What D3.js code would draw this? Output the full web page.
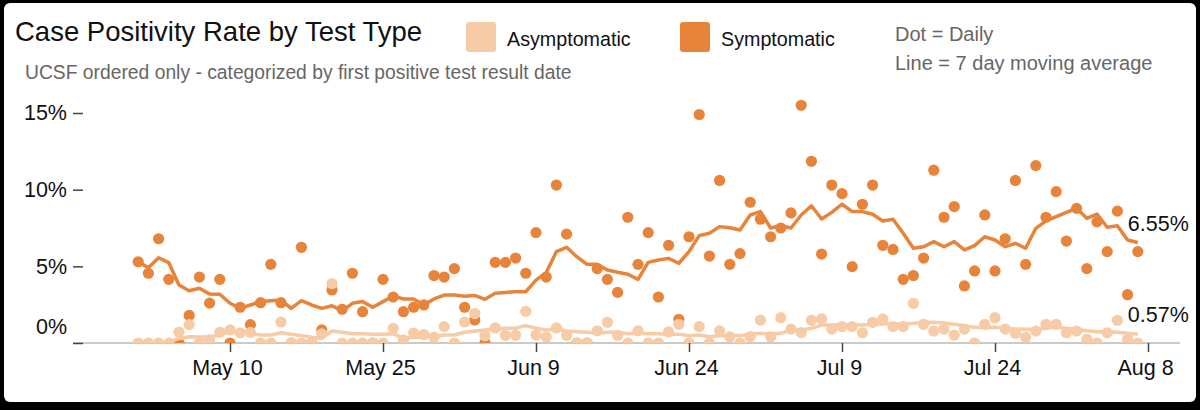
<!DOCTYPE html>
<html>
<head>
<meta charset="utf-8">
<script src="https://cdn.jsdelivr.net/npm/d3@7"></script>
<style>
  body { margin: 0; background: #000; }
  text { font-family: "Liberation Sans", Arial, Helvetica, sans-serif; }
</style>
</head>
<body>
<div class="chart"></div>
<script>
// daily values from May 1 to Aug 7 (one per day)
var startDate = "2020-05-01";

var symptomaticDaily = [
  5.3, 4.55, 6.8, 4.15, 0, 1.8, 4.3, 2.6, 4.15, 0,
  2.33, 1.2, 2.63, 5.13, 2.63, 0, 6.24, 0, 0.85, 3.46,
  2.2, 4.55, 2.04, 0, 4.15, 3.0, 2.04, 2.33, 2.48, 4.4,
  4.3, 4.85, 2.33, 1.5, 0, 5.26, 5.26, 5.54, 4.55, 7.2,
  4.3, 10.3, 7.1, 0, 0, 4.85, 4.15, 3.3, 8.2, 5.13,
  7.2, 3.0, 6.37, 1.55, 6.93, 14.9, 5.67, 10.6, 5.13, 5.83,
  9.18, 8.07, 6.93, 7.5, 8.48, 15.5, 11.85, 5.8, 10.3, 9.74,
  4.98, 9.05, 10.3, 6.37, 6.1, 4.15, 4.4, 5.54, 11.27, 8.2,
  8.9, 3.72, 4.7, 8.35, 4.7, 6.8, 10.6, 5.13, 11.57, 8.2,
  9.87, 6.65, 8.78, 4.85, 7.9, 5.96, 8.6, 3.15, 5.96
];

var symptomaticAvg = [
  5.3, 4.9, 5.56, 5.24, 3.78, 3.41, 3.57, 3.2, 3.18, 2.59,
  2.26, 2.48, 2.7, 2.76, 2.8, 2.26, 2.76, 2.48, 2.26, 2.43,
  2.09, 2.59, 2.7, 2.33, 2.7, 3.07, 2.87, 2.87, 2.5, 2.87,
  3.13, 3.13, 3.05, 3.1, 2.85, 3.24, 3.3, 3.35, 3.35, 4.1,
  4.59, 5.96, 6.24, 5.63, 5.13, 5.13, 4.76, 4.61, 4.48, 4.15,
  5.26, 5.41, 5.52, 5.2, 5.96, 7.0, 7.16, 7.59, 7.52, 7.37,
  8.35, 8.57, 7.5, 7.65, 7.5, 8.35, 8.95, 8.09, 8.52, 9.05,
  8.57, 8.57, 8.4, 7.96, 8.07, 7.16, 6.18, 6.28, 6.61, 6.28,
  6.61, 6.07, 6.35, 6.93, 6.72, 6.28, 6.5, 6.18, 7.48, 7.96,
  8.24, 8.52, 8.78, 8.13, 8.41, 7.55, 7.65, 6.72, 6.55
];

var asymptomaticDaily = [
  0, 0, 0, 0, 0.7, 1.2, 0, 0.2, 0.7, 0.85,
  0.67, 0.7, 0, 0, 1.37, 0, 0, 0, 0.6, 3.87,
  0, 0, 0, 0, 0, 0.96, 0.2, 0.65, 0.55, 0.38,
  1.07, 0, 1.37, 1.92, 0.47, 0.98, 0.5, 0.5, 2.06, 0.52,
  0.39, 0.98, 0.5, 0, 0, 0.8, 1.35, 0.5, 0, 0.8,
  0, 0, 0.72, 1.22, 0, 1.07, 0, 0.79, 0.4, 0,
  0.42, 1.49, 0.4, 1.65, 0.91, 0.68, 1.48, 1.57, 0.91, 1.07,
  1.07, 0.67, 1.35, 1.57, 1.07, 1.07, 2.59, 1.22, 0.78, 0.91,
  0.52, 0.91, 0, 1.22, 1.65, 0.91, 0.63, 0.37, 0.78, 1.22,
  1.22, 0.67, 0.78, 0.24, 0, 0.67, 1.48, 0.24, 0
];

var asymptomaticAvg = [
  0, 0, 0, 0.05, 0.3, 0.41, 0.39, 0.39, 0.52, 0.74,
  0.63, 0.63, 0.52, 0.52, 0.67, 0.57, 0.48, 0.37, 0.3, 0.78,
  0.7, 0.6, 0.6, 0.57, 0.57, 0.61, 0.3, 0.37, 0.37, 0.41,
  0.52, 0.52, 0.7, 0.78, 0.85, 0.89, 0.96, 0.96, 1.13, 0.96,
  0.85, 0.91, 0.78, 0.74, 0.7, 0.63, 0.7, 0.7, 0.6, 0.63,
  0.6, 0.6, 0.57, 0.57, 0.48, 0.52, 0.41, 0.48, 0.52, 0.48,
  0.57, 0.63, 0.6, 0.63, 0.85, 0.85, 0.96, 1.17, 1.17, 1.22,
  1.17, 1.17, 1.22, 1.24, 1.28, 1.22, 1.28, 1.33, 1.35, 1.3,
  1.22, 1.13, 1.02, 1.0, 1.02, 0.96, 0.91, 0.89, 0.91, 0.96,
  1.02, 0.96, 0.89, 0.8, 0.74, 0.74, 0.7, 0.63, 0.57
];

var xTickDates = ["2020-05-10", "2020-05-25", "2020-06-09", "2020-06-24", "2020-07-09", "2020-07-24", "2020-08-08"];
var xTickLabels = ["May 10", "May 25", "Jun 9", "Jun 24", "Jul 9", "Jul 24", "Aug 8"];
var yTicks = [0, 5, 10, 15];

var seriesNames = ["Asymptomatic", "Symptomatic"];
var seriesColors = ["#f6cba6", "#e8833a"];


PositivityChart = function(containerClassName) {
  this.containerClassName = containerClassName;
  this.init();
};

PositivityChart.prototype.init = function() {
  var vis = this;
  var parse = d3.utcParse("%Y-%m-%d");

  vis.width = 1200;
  vis.height = 410;

  vis.svg = d3.select(vis.containerClassName).append("svg")
    .attr("width", vis.width)
    .attr("height", vis.height)
    .style("display", "block");

  // white card on the black frame
  vis.svg.append("rect")
    .attr("x", 4).attr("y", 3)
    .attr("width", 1192).attr("height", 399)
    .attr("rx", 6)
    .attr("fill", "#fff");

  vis.dates = symptomaticDaily.map(function(d, i) {
    return d3.utcDay.offset(parse(startDate), i);
  });
  vis.tickDates = xTickDates.map(parse);

  vis.x = d3.scaleUtc()
    .domain([vis.tickDates[0], vis.tickDates[vis.tickDates.length - 1]])
    .range([230, 1148]);

  vis.y = d3.scaleLinear()
    .domain([0, 15])
    .range([343, 113]);

  vis.drawHeader();
  vis.drawAxes();
  vis.drawData();
};

PositivityChart.prototype.drawHeader = function() {
  var vis = this;

  vis.svg.append("text")
    .text("Case Positivity Rate by Test Type")
    .attr("x", 15).attr("y", 41)
    .attr("font-size", "27.5px")
    .attr("fill", "#111");

  vis.svg.append("text")
    .text("UCSF ordered only - categorized by first positive test result date")
    .attr("x", 25).attr("y", 79)
    .attr("font-size", "19.3px")
    .attr("fill", "#666");

  var legendX = [466, 680];
  seriesNames.forEach(function(name, i) {
    vis.svg.append("rect")
      .attr("x", legendX[i]).attr("y", 22)
      .attr("width", 30).attr("height", 30)
      .attr("rx", 3)
      .attr("fill", seriesColors[i]);
    vis.svg.append("text")
      .text(name)
      .attr("x", legendX[i] + 41).attr("y", 46)
      .attr("font-size", "19.7px")
      .attr("fill", "#111");
  });

  vis.svg.append("text")
    .text("Dot = Daily")
    .attr("x", 895).attr("y", 41)
    .attr("font-size", "20px")
    .attr("fill", "#666");

  vis.svg.append("text")
    .text("Line = 7 day moving average")
    .attr("x", 895).attr("y", 70)
    .attr("font-size", "20px")
    .attr("fill", "#666");
};

PositivityChart.prototype.drawAxes = function() {
  var vis = this;

  // baseline
  vis.svg.append("line")
    .attr("x1", 73).attr("x2", 1180)
    .attr("y1", vis.y(0)).attr("y2", vis.y(0))
    .attr("stroke", "#b8b8b8")
    .attr("stroke-width", 1.5);

  var xAxis = d3.axisBottom(vis.x)
    .tickValues(vis.tickDates)
    .tickFormat(function(d, i) { return xTickLabels[i]; })
    .tickSize(9)
    .tickPadding(8);

  var gx = vis.svg.append("g")
    .attr("transform", "translate(0," + vis.y(0) + ")")
    .call(xAxis);
  gx.select(".domain").remove();
  gx.selectAll("line").attr("stroke", "#444").attr("stroke-width", 1.5);
  gx.selectAll("text")
    .attr("font-size", "21.5px")
    .attr("font-family", "Liberation Sans, Arial, sans-serif")
    .attr("fill", "#111")
    .attr("dx", "-3");

  var yAxis = d3.axisLeft(vis.y)
    .tickValues(yTicks)
    .tickFormat(function(d) { return d + "%"; })
    .tickSize(10)
    .tickPadding(6);

  var gy = vis.svg.append("g")
    .attr("transform", "translate(83,0)")
    .call(yAxis);
  gy.select(".domain").remove();
  gy.selectAll("line").attr("stroke", "#444").attr("stroke-width", 1.5);
  gy.selectAll("text")
    .attr("font-size", "21.5px")
    .attr("font-family", "Liberation Sans, Arial, sans-serif")
    .attr("fill", "#111");
  // the 0% label sits above the baseline
  gy.selectAll(".tick").filter(function(d) { return d === 0; })
    .select("text").attr("y", -16);
};

PositivityChart.prototype.drawData = function() {
  var vis = this;

  vis.svg.append("clipPath").attr("id", "plot-clip")
    .append("rect")
      .attr("x", 73).attr("y", 90)
      .attr("width", 1110).attr("height", vis.y(0) - 90);

  var plot = vis.svg.append("g").attr("clip-path", "url(#plot-clip)");

  var line = d3.line()
    .x(function(d, i) { return vis.x(vis.dates[i]); })
    .y(function(d) { return vis.y(d); });

  var series = [
    {daily: symptomaticDaily, avg: symptomaticAvg, color: seriesColors[1]},
    {daily: asymptomaticDaily, avg: asymptomaticAvg, color: seriesColors[0]}
  ];

  series.forEach(function(s) {
    plot.append("g").selectAll("circle")
      .data(s.daily)
      .enter()
      .append("circle")
        .attr("cx", function(d, i) { return vis.x(vis.dates[i]); })
        .attr("cy", function(d) { return vis.y(d); })
        .attr("r", 5.6)
        .attr("fill", s.color);
  });

  series.forEach(function(s) {
    plot.append("path")
      .datum(s.avg)
      .attr("d", line)
      .attr("fill", "none")
      .attr("stroke", s.color)
      .attr("stroke-width", 3.5)
      .attr("stroke-linejoin", "round");
  });

  // end labels
  var last = vis.dates.length - 1;
  [symptomaticAvg, asymptomaticAvg].forEach(function(arr) {
    vis.svg.append("text")
      .text(arr[last].toFixed(2) + "%")
      .attr("x", vis.x(vis.dates[last]) - 10)
      .attr("y", vis.y(arr[last]) - 12)
      .attr("font-size", "21.5px")
      .attr("fill", "#111");
  });
};

var chart = new PositivityChart(".chart");
</script>
</body>
</html>
